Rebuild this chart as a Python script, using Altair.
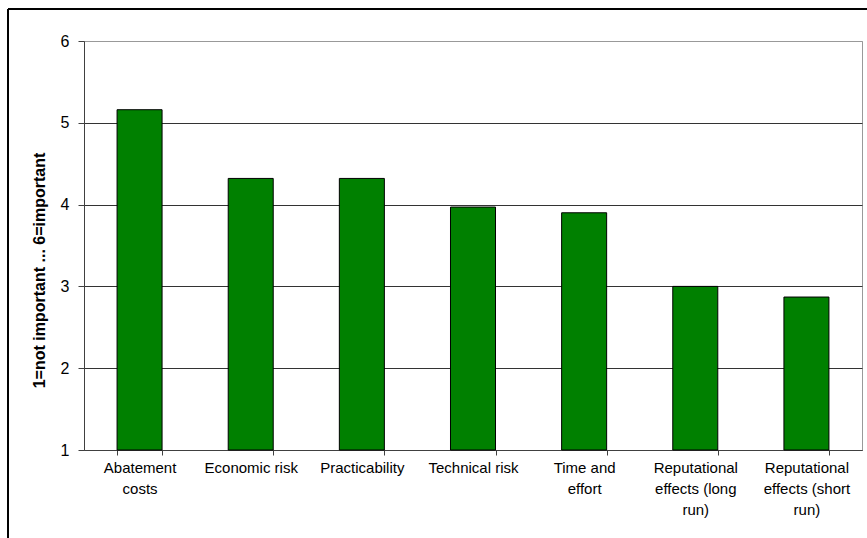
import altair as alt
import pandas as pd

# Survey results: mean importance of each criterion (scale 1..6)
criteria = [
    "Abatement|costs",
    "Economic risk",
    "Practicability",
    "Technical risk",
    "Time and|effort",
    "Reputational|effects (long|run)",
    "Reputational|effects (short|run)",
]
scores = [5.16, 4.32, 4.32, 3.97, 3.90, 3.00, 2.87]
y_ticks = [1, 2, 3, 4, 5, 6]
baseline = 1

df = pd.DataFrame({"criterion": criteria, "score": scores})

FONT = "Liberation Sans"
PLOT_W, PLOT_H = 778, 409

bars = alt.Chart(df).mark_bar(
    color="#008000", stroke="#000000", strokeWidth=1
).encode(
    x=alt.X(
        "criterion:N",
        sort=criteria,
        title=None,
        scale=alt.Scale(paddingInner=0.595, paddingOuter=0.2975),
        axis=alt.Axis(
            labelAngle=0,
            labelExpr="split(datum.label, '|')",
            labelFont=FONT,
            labelFontSize=15,
            labelColor="#000000",
            labelLineHeight=21,
            labelPadding=5,
            labelLimit=0,
            tickBand="extent",
            tickSize=5,
            tickColor="#404040",
            domainColor="#404040",
            grid=False,
        ),
    ),
    y=alt.Y(
        "score:Q",
        scale=alt.Scale(domain=[1, 6], nice=False, zero=False),
        axis=alt.Axis(
            values=y_ticks,
            title="1=not important ... 6=important",
            titleFont=FONT,
            titleFontSize=16,
            titleFontWeight="bold",
            titleColor="#000000",
            titleAngle=-90,
            titleX=-45,
            titleY=229,
            titleAlign="center",
            titleBaseline="middle",
            labelFont=FONT,
            labelFontSize=16,
            labelColor="#000000",
            labelPadding=9,
            tickSize=6,
            tickColor="#404040",
            domainColor="#404040",
            gridColor=alt.condition("datum.value == 6", alt.value("#999999"), alt.value("#333333")),
            gridOpacity=1,
        ),
    ),
    y2=alt.datum(baseline),
)

# Outer chart frame (top and left edges)
frame_top = alt.Chart(df).mark_rule(color="#000000", strokeWidth=1).encode(
    x=alt.value(-76), x2=alt.value(PLOT_W + 10), y=alt.value(-32)
)
frame_left = alt.Chart(df).mark_rule(color="#000000", strokeWidth=1).encode(
    x=alt.value(-76), y=alt.value(-32), y2=alt.value(PLOT_H + 100)
)

chart = alt.layer(bars, frame_top, frame_left).properties(
    width=PLOT_W,
    height=PLOT_H,
    autosize=alt.AutoSizeParams(type="none"),
    padding={"left": 84, "top": 41, "right": 5, "bottom": 88},
    background="#ffffff",
).configure_view(stroke="#999999", strokeWidth=1)

chart.save("out.html", embed_options={"renderer": "svg", "actions": False})
